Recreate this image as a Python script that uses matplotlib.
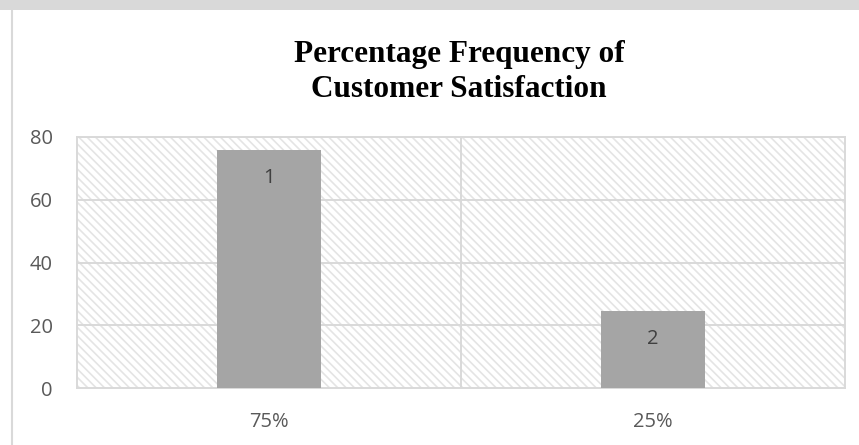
import matplotlib.pyplot as plt
from matplotlib.patches import Rectangle

# data
categories = ['75%', '25%']
values = [75.8, 24.5]
bar_labels = ['1', '2']
yticks = [0, 20, 40, 60, 80]

plt.rcParams['hatch.linewidth'] = 1.2
plt.rcParams['hatch.color'] = '#e4e4e4'

fig = plt.figure(figsize=(8.59, 4.45), dpi=100)
fig.patch.set_facecolor('white')

# grey page frame around the chart
fig.patches.append(Rectangle((0, 1 - 10 / 445), 1, 10 / 445, transform=fig.transFigure,
                             facecolor='#d9d9d9', edgecolor='none', zorder=0))
fig.lines.append(plt.Line2D([11.5 / 859, 11.5 / 859], [0, 1 - 10 / 445], transform=fig.transFigure,
                            color='#d9d9d9', lw=1.5))

ax = fig.add_axes([77 / 859, 57 / 445, 768 / 859, 251 / 445])
ax.set_facecolor('white')

# hatched plot area
ax.add_patch(Rectangle((0, 0), 1, 1, transform=ax.transAxes, facecolor='white',
                       edgecolor='#e4e4e4', hatch='\\\\\\\\', lw=0, zorder=0))

x = range(len(categories))
bars = ax.bar(x, values, width=0.27, color='#a5a5a5', zorder=3)

for b, lab in zip(bars, bar_labels):
    ax.annotate(lab, (b.get_x() + b.get_width() / 2, b.get_height()),
                xytext=(0, -28 * 72 / 100), textcoords='offset points',
                ha='center', va='center', fontsize=14.5, color='#404040',
                family='Open Sans', zorder=4)

ax.set_xlim(-0.5, 1.5)
ax.set_ylim(0, 80)
ax.set_yticks(yticks)
ax.set_xticks(list(x))
ax.set_xticklabels(categories)

for y in yticks[1:]:
    ax.axhline(y, color='#d9d9d9', lw=1.4, zorder=1)
ax.axvline(0.5, color='#d9d9d9', lw=1.4, zorder=1)

for s in ax.spines.values():
    s.set_color('#d9d9d9')
    s.set_linewidth(1.4)

ax.tick_params(length=0, colors='#595959', labelsize=14.5)
ax.tick_params(axis='y', pad=24 * 72 / 100)
ax.tick_params(axis='x', pad=24 * 72 / 100)
for t in ax.get_xticklabels() + ax.get_yticklabels():
    t.set_family('Open Sans')

fig.text(459 / 859, 0.838, 'Percentage Frequency of\nCustomer Satisfaction',
         ha='center', va='center', fontsize=22.5, fontweight='bold',
         family='Liberation Serif', linespacing=1.25, color='black')

plt.savefig('out.png', dpi=100)
